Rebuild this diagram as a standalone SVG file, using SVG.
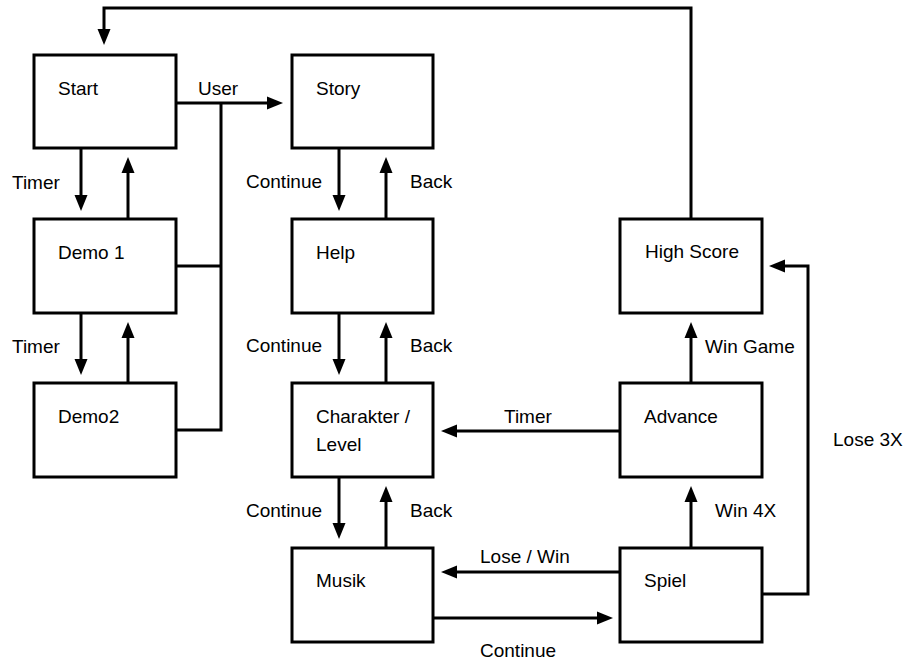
<svg xmlns="http://www.w3.org/2000/svg" width="911" height="660" viewBox="0 0 911 660">
<style>
.box{fill:#fff;stroke:#000;stroke-width:3}
.t{font-family:"Liberation Sans",Arial,sans-serif;font-size:19px;fill:#000}
.c{fill:none;stroke:#000;stroke-width:3}
</style>
<defs>
<marker id="ah" markerUnits="userSpaceOnUse" markerWidth="17" markerHeight="13" refX="0" refY="6.5" orient="auto" overflow="visible">
<path d="M0,0 L16,6.5 L0,13 z" fill="#000"/>
</marker>
</defs>
<rect width="911" height="660" fill="#fff"/>
<g id="connectors">
<path class="c" d="M691,219 V8 H104 V29" marker-end="url(#ah)"/>
<path class="c" d="M175,103 H267" marker-end="url(#ah)"/>
<path class="c" d="M176,266 H221"/>
<path class="c" d="M176,430 H221 V103"/>
<path class="c" d="M81,148 V195" marker-end="url(#ah)"/>
<path class="c" d="M128,219 V173" marker-end="url(#ah)"/>
<path class="c" d="M81,313 V359" marker-end="url(#ah)"/>
<path class="c" d="M128,383 V338" marker-end="url(#ah)"/>
<path class="c" d="M339,148 V195" marker-end="url(#ah)"/>
<path class="c" d="M386,219 V173" marker-end="url(#ah)"/>
<path class="c" d="M339,313 V359" marker-end="url(#ah)"/>
<path class="c" d="M386,383 V338" marker-end="url(#ah)"/>
<path class="c" d="M339,477 V523" marker-end="url(#ah)"/>
<path class="c" d="M386,548 V502" marker-end="url(#ah)"/>
<path class="c" d="M620,431 H457" marker-end="url(#ah)"/>
<path class="c" d="M620,572 H457" marker-end="url(#ah)"/>
<path class="c" d="M433,618 H597" marker-end="url(#ah)"/>
<path class="c" d="M691,548 V502" marker-end="url(#ah)"/>
<path class="c" d="M691,383 V338" marker-end="url(#ah)"/>
<path class="c" d="M762,594 H808 V266 H785" marker-end="url(#ah)"/>
<text class="t" x="198" y="95">User</text>
<text class="t" x="12" y="189">Timer</text>
<text class="t" x="12" y="353">Timer</text>
<text class="t" x="246" y="188">Continue</text>
<text class="t" x="410" y="188">Back</text>
<text class="t" x="246" y="352">Continue</text>
<text class="t" x="410" y="352">Back</text>
<text class="t" x="246" y="517">Continue</text>
<text class="t" x="410" y="517">Back</text>
<text class="t" x="504" y="423">Timer</text>
<text class="t" x="715" y="517">Win 4X</text>
<text class="t" x="480" y="563">Lose / Win</text>
<text class="t" x="480" y="657">Continue</text>
<text class="t" x="705" y="353">Win Game</text>
<text class="t" x="833" y="446">Lose 3X</text>
</g>
<g id="start"><rect class="box" x="34" y="55" width="142" height="93"/><text class="t" x="58" y="95">Start</text></g>
<g id="demo1"><rect class="box" x="34" y="219" width="142" height="94"/><text class="t" x="58" y="259">Demo 1</text></g>
<g id="demo2"><rect class="box" x="34" y="383" width="142" height="94"/><text class="t" x="58" y="423">Demo2</text></g>
<g id="story"><rect class="box" x="292" y="55" width="141" height="93"/><text class="t" x="316" y="95">Story</text></g>
<g id="help"><rect class="box" x="292" y="219" width="141" height="94"/><text class="t" x="316" y="259">Help</text></g>
<g id="charakter"><rect class="box" x="292" y="383" width="141" height="94"/><text class="t" x="316" y="423">Charakter /</text><text class="t" x="316" y="451">Level</text></g>
<g id="musik"><rect class="box" x="292" y="548" width="141" height="94"/><text class="t" x="316" y="587">Musik</text></g>
<g id="highscore"><rect class="box" x="620" y="219" width="142" height="94"/><text class="t" x="645" y="258">High Score</text></g>
<g id="advance"><rect class="box" x="620" y="383" width="142" height="94"/><text class="t" x="644" y="423">Advance</text></g>
<g id="spiel"><rect class="box" x="620" y="548" width="142" height="94"/><text class="t" x="644" y="587">Spiel</text></g>
</svg>
